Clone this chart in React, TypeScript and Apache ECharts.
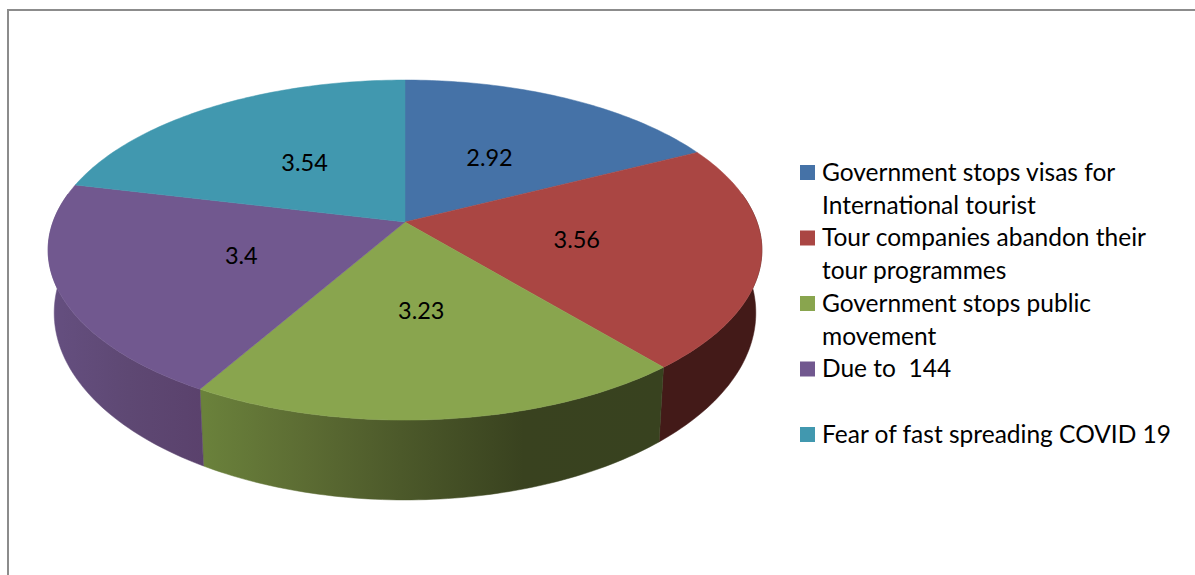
import React, { useEffect, useRef } from "react";
import * as echarts from "echarts";

const categories = [
  "Government stops visas for\nInternational tourist",
  "Tour companies abandon their\ntour programmes",
  "Government stops public\nmovement",
  "Due to  144",
  "Fear of fast spreading COVID 19",
];
const values = [2.92, 3.56, 3.23, 3.4, 3.54];
const topColors = ["#4572A7", "#AA4643", "#89A54E", "#71588F", "#4198AF"];

const FONT = "Lato, Carlito, Calibri, sans-serif";
const LEGEND_FS = 24.5;
const LABEL_FS = 23.5;
const CX = 405;
const P = 0.165;
const TOP = { k: 352, b: 165.4, y0: 222 };
const BOTTOM = { k: 346, b: 182, y0: 282 };

const project = (deg: number, r: number, f: { k: number; b: number; y0: number }) => {
  const t = (deg * Math.PI) / 180;
  const u = r * Math.sin(t);
  const v = -r * Math.cos(t);
  const d = 1 - P * v;
  return [CX + (f.k * u) / d, f.y0 + (f.b * v) / d];
};

const sideFill = (i: number): any => {
  const stops: Record<number, [number, string][]> = {
    1: [[0, "#431A18"], [1, "#431A18"]],
    2: [[0, "#6A813B"], [0.22, "#5C6C33"], [0.43, "#4C592A"], [0.7, "#39421F"], [1, "#38421F"]],
    3: [[0, "#654F80"], [0.5, "#5E4873"], [1, "#5A416C"]],
  };
  const ranges: Record<number, [number, number]> = { 1: [650, 765], 2: [205, 660], 3: [50, 207] };
  const s = stops[i];
  if (!s) return topColors[i];
  const [x0, x1] = ranges[i];
  return new echarts.graphic.LinearGradient(
    x0, 0, x1, 0,
    s.map(([offset, color]) => ({ offset, color })),
    true
  );
};

const total = values.reduce((a, b) => a + b, 0);
const startAngles = values.map((_, i) =>
  (values.slice(0, i).reduce((a, b) => a + b, 0) / total) * 360
);

const topFace = (i: number, arc: number[], api: any) => {
  const apex = [CX, TOP.y0];
  const mid = (arc[0] + arc[arc.length - 1]) / 2;
  const [lx, ly] = project(mid, 0.49, TOP);
  return [
    {
      type: "polygon",
      z2: 5,
      shape: { points: [apex, ...arc.map((a) => project(a, 1, TOP))] },
      style: { fill: topColors[i], stroke: topColors[i], lineWidth: 0.5 },
    },
    {
      type: "text",
      z2: 10,
      x: lx,
      y: ly,
      style: {
        text: String(api.value(0)),
        fill: "#000000",
        font: `${LABEL_FS}px ${FONT}`,
        align: "center",
        verticalAlign: "middle",
      },
    },
  ];
};

const renderItem = (params: any, api: any) => {
  const i = params.dataIndex;
  const a0 = startAngles[i];
  const a1 = a0 + (api.value(0) / total) * 360;
  const arc: number[] = [];
  for (let a = a0; a < a1; a += 1) arc.push(a);
  arc.push(a1);

  const children: any[] = [];
  const lo = Math.max(a0, 80);
  const hi = Math.min(a1, 280);
  if (hi > lo) {
    const sa = arc.filter((a) => a >= lo && a <= hi);
    const topEdge = sa.map((a) => project(a, 1, TOP));
    const botEdge = sa.map((a) => project(a, 1, BOTTOM)).reverse();
    const fill = sideFill(i);
    children.push({
      type: "polygon",
      z2: 1,
      shape: { points: [...topEdge, ...botEdge] },
      style: { fill, stroke: fill, lineWidth: 0.5 },
    });
  }
  return { type: "group", children: children.concat(topFace(i, arc, api)) };
};

const LEGEND_X = 800;
const LEGEND_TOP = 165;
const LEGEND_STEP = 65.5;

export default function App() {
  const ref = useRef<HTMLDivElement>(null);
  useEffect(() => {
    document.body.style.margin = "0";
    const chart = echarts.init(ref.current!, undefined, { renderer: "svg" });
    const legend: any[] = [];
    categories.forEach((name, i) => {
      const y = LEGEND_TOP + i * LEGEND_STEP;
      legend.push({
        type: "rect",
        shape: { x: LEGEND_X, y, width: 15, height: 15 },
        style: { fill: topColors[i] },
      });
      legend.push({
        type: "text",
        x: LEGEND_X + 22,
        y: y - 10.5,
        style: {
          text: name,
          fill: "#000000",
          font: `${LEGEND_FS}px ${FONT}`,
          lineHeight: 33,
          align: "left",
          verticalAlign: "top",
        },
      });
    });
    chart.setOption({
      animation: false,
      backgroundColor: "#ffffff",
      tooltip: { show: false },
      graphic: [
        {
          type: "rect",
          shape: { x: 8, y: 10, width: 1400, height: 800 },
          style: { fill: "none", stroke: "#8C8C8C", lineWidth: 2 },
          silent: true,
        },
        ...legend,
      ],
      series: [
        {
          type: "custom",
          coordinateSystem: "none",
          silent: true,
          renderItem,
          data: values.map((v, i) => ({ name: categories[i], value: [v] })),
        },
      ],
    });
    return () => chart.dispose();
  }, []);
  return <div ref={ref} style={{ width: 1195, height: 575 }} />;
}
